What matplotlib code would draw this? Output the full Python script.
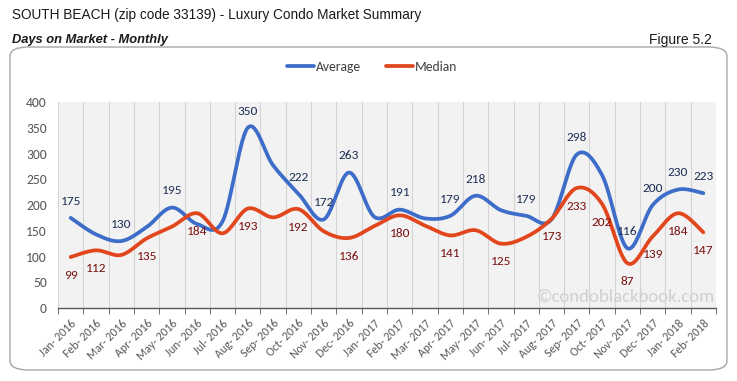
import numpy as np
import matplotlib
matplotlib.use("Agg")
import matplotlib.pyplot as plt
from matplotlib.patches import FancyBboxPatch

months = ["Jan- 2016", "Feb- 2016", "Mar- 2016", "Apr- 2016", "May- 2016", "Jun- 2016",
          "Jul- 2016", "Aug- 2016", "Sep- 2016", "Oct- 2016", "Nov- 2016", "Dec- 2016",
          "Jan- 2017", "Feb- 2017", "Mar- 2017", "Apr- 2017", "May- 2017", "Jun- 2017",
          "Jul- 2017", "Aug- 2017", "Sep- 2017", "Oct- 2017", "Nov- 2017", "Dec- 2017",
          "Jan- 2018", "Feb- 2018"]
average = [175, 143, 130, 157, 195, 163, 168, 350, 277, 222, 172, 263,
           177, 191, 174, 179, 218, 190, 179, 172, 298, 258, 116, 200, 230, 223]
median = [99, 112, 103, 135, 158, 184, 145, 193, 176, 192, 149, 136,
          159, 180, 160, 141, 151, 125, 138, 173, 233, 202, 87, 139, 184, 147]
# which points carry a data label
avg_labels = [0, 2, 4, 7, 9, 10, 11, 13, 15, 16, 18, 20, 22, 23, 24, 25]
med_labels = [0, 1, 3, 5, 7, 9, 11, 13, 15, 17, 19, 20, 21, 22, 23, 24, 25]

BLUE = "#3D6DC8"
RED = "#E2461C"
chart_font = ["Carlito", "Lato", "DejaVu Sans"]
title_font = ["Liberation Sans Narrow", "Liberation Sans", "DejaVu Sans"]


def smooth(y, n=30):
    # Excel-style smoothed line: cubic Bezier with Catmull-Rom tangents
    y = np.asarray(y, dtype=float)
    x = np.arange(len(y), dtype=float)
    pts = np.column_stack([x, y])
    ext = np.vstack([pts[0], pts, pts[-1]])
    out = []
    t = np.linspace(0, 1, n)[:, None]
    for i in range(len(pts) - 1):
        p0, p1, p2, p3 = ext[i], ext[i + 1], ext[i + 2], ext[i + 3]
        c1 = p1 + (p2 - p0) / 6
        c2 = p2 - (p3 - p1) / 6
        seg = ((1 - t) ** 3) * p1 + 3 * ((1 - t) ** 2) * t * c1 + 3 * (1 - t) * t ** 2 * c2 + t ** 3 * p2
        out.append(seg if i == 0 else seg[1:])
    out = np.vstack(out)
    return out[:, 0], out[:, 1]


fig = plt.figure(figsize=(7.37, 3.81), dpi=100)
fig.patch.set_facecolor("white")

box = FancyBboxPatch((10 / 737, 1 - 370 / 381), 717 / 737, 323 / 381,
                     boxstyle="round,pad=0,rounding_size=0.025",
                     transform=fig.transFigure, facecolor="white",
                     edgecolor="#A6A6A6", linewidth=1.0, zorder=-5)
fig.patches.append(box)

fig.text(12 / 737, 1 - 15 / 381, "SOUTH BEACH (zip code 33139) - Luxury Condo Market Summary",
         family=title_font, fontsize=9.8, color="#1A1A1A", va="center", ha="left")
fig.text(12 / 737, 1 - 40 / 381, "Days on Market - Monthly", family=title_font,
         fontsize=9.3, fontweight="bold", fontstyle="italic", color="#1A1A1A", va="center")
fig.text(712 / 737, 1 - 40 / 381, "Figure 5.2", family=title_font, fontsize=10,
         color="#1A1A1A", va="center", ha="right")

ax = fig.add_axes([58 / 737, 1 - 308 / 381, 658 / 737, 206 / 381])
ax.set_zorder(2)
ax.set_facecolor("#F2F2F2")
n = len(months)
x = np.arange(n)

xs, ys = smooth(average)
ax.plot(xs, ys, color=BLUE, lw=2.7, solid_capstyle="round", label="Average", zorder=3)
xs, ys = smooth(median)
ax.plot(xs, ys, color=RED, lw=2.7, solid_capstyle="round", label="Median", zorder=3)

for i in avg_labels:
    ax.annotate(str(average[i]), (x[i], average[i]), xytext=(0, 12), textcoords="offset points",
                ha="center", va="center", fontsize=9.6, color="#1F2F55", family=chart_font, zorder=4)
for i in med_labels:
    ax.annotate(str(median[i]), (x[i], median[i]), xytext=(0, -13), textcoords="offset points",
                ha="center", va="center", fontsize=9.6, color="#7A1010", family=chart_font, zorder=4)

ax.set_xlim(-0.5, n - 0.5)
ax.set_ylim(0, 400)
ax.set_yticks(range(0, 401, 50))
ax.set_xticks(np.arange(n + 1) - 0.5, minor=True)
ax.set_xticks(x)
ax.set_xticklabels(months, rotation=45, ha="right", rotation_mode="anchor",
                   fontsize=8.6, color="#595959", family=chart_font)
ax.tick_params(axis="x", which="major", length=0, pad=7)
ax.tick_params(axis="x", which="minor", length=4, color="#595959", direction="out")
ax.tick_params(axis="y", length=0, labelsize=9.8, labelcolor="#595959", pad=8)
for lab in ax.get_yticklabels():
    lab.set_family(chart_font)
ax.grid(axis="x", which="minor", color="#D4D4D4", lw=0.8)
ax.set_axisbelow(True)
for s in ["left", "right", "top"]:
    ax.spines[s].set_visible(False)
ax.spines["bottom"].set_color("#595959")
ax.spines["bottom"].set_linewidth(1)

ax.text(0.998, 0.015, "\u00a9condoblackbook.com", transform=ax.transAxes, ha="right", va="bottom",
        fontsize=13.5, color="#D0D0D0", family=chart_font, zorder=2)

fig.legend(loc="center", bbox_to_anchor=(372 / 737, 1 - 67 / 381), ncol=2, frameon=False,
           prop={"family": chart_font, "size": 9.8}, handlelength=2.0, handletextpad=0.15,
           columnspacing=1.8, labelcolor="#404040")

fig.savefig("out.png", dpi=100)
